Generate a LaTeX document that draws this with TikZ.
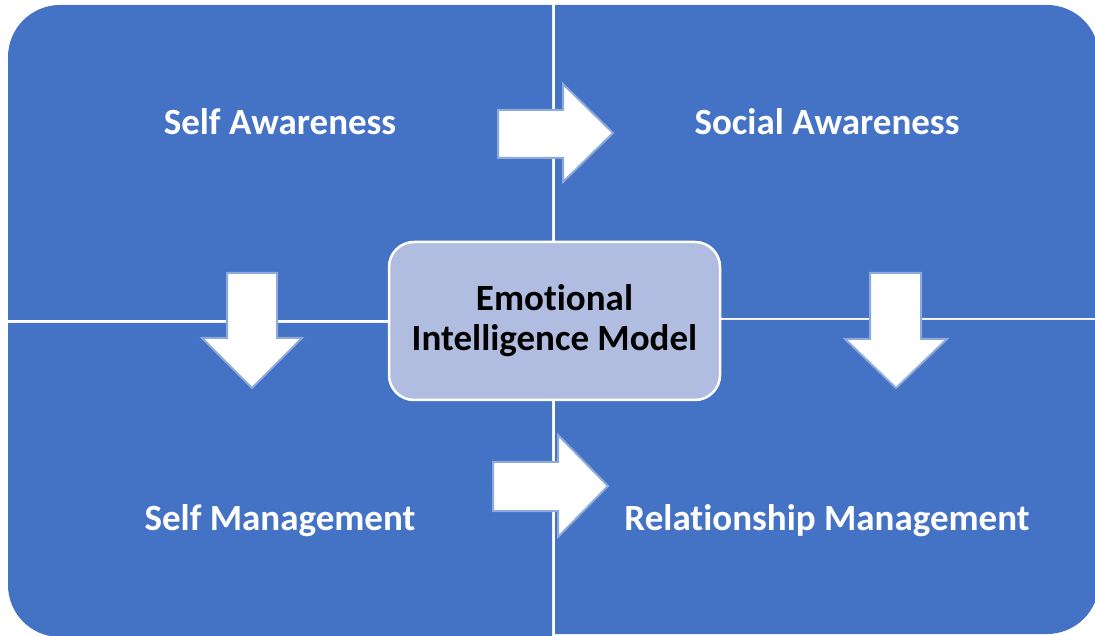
\documentclass[tikz,border=0pt]{standalone}
\usepackage{fontspec}
\newfontfamily\labelfont[Ligatures=NoCommon]{Carlito}
\newcommand{\nolig}{\kern0pt }
\definecolor{quadblue}{HTML}{4472C4}
\definecolor{hubfill}{HTML}{B0BDE0}
\definecolor{arrowedge}{HTML}{8EA9DB}
\tikzset{
  quad/.style={fill=quadblue},
  quadlabel/.style={text=white, font=\labelfont\bfseries\fontsize{37}{40}\selectfont, anchor=base, inner sep=0pt},
  hub/.style={draw=white, line width=2.5pt, fill=hubfill, rounded corners=25pt,
    minimum width=331pt, minimum height=158pt, align=center, text=black,
    font=\labelfont\bfseries\fontsize{37}{40}\selectfont},
  blockarrow/.style={fill=white, draw=arrowedge, line width=2pt, line join=miter}
}
\begin{document}
\begin{tikzpicture}[x=1pt,y=1pt]
\useasboundingbox (0,0) rectangle (1095,635);
\clip (0,0) rectangle (1095,635);

% four quadrants, each with one rounded outer corner
\fill[quad] (552,315) -- (8,315) -- (8,578) arc[start angle=180, end angle=90, radius=52] -- (552,630) -- cycle;
\fill[quad] (555,317) -- (555,630) -- (1047,630) arc[start angle=90, end angle=0, radius=52] -- (1099,317) -- cycle;
\fill[quad] (552,312) -- (8,312) -- (8,50) arc[start angle=180, end angle=270, radius=52] -- (552,-2) -- cycle;
\fill[quad] (555,315) -- (1099,315) -- (1099,53) arc[start angle=0, end angle=-90, radius=52] -- (555,1) -- cycle;

% quadrant labels
\node[quadlabel] (selfaw) at (280,500) {Self Awareness};
\node[quadlabel] (socaw) at (827,500) {Social Awareness};
\node[quadlabel] (selfmg) at (280,105) {Self Management};
\node[quadlabel] (relmg) at (827,105) {Relat\nolig ionship Management};

% block arrows between the quadrants
\draw[blockarrow] (498,525) -- (563,525) -- (563,551) -- (613,502) -- (563,453) -- (563,477) -- (498,477) -- cycle;
\draw[blockarrow] (493,173) -- (558,173) -- (558,200) -- (608,149) -- (558,98) -- (558,124) -- (493,124) -- cycle;
\draw[blockarrow] (227,362) -- (227,297) -- (202,297) -- (252,247) -- (302,297) -- (277,297) -- (277,362) -- cycle;
\draw[blockarrow] (870,362) -- (870,296) -- (845,296) -- (896,247) -- (947,296) -- (921,296) -- (921,362) -- cycle;

% central hub
\node[hub] (hub) at (554.5,314) {Emot\nolig ional\\Intelligence Model};
\end{tikzpicture}
\end{document}
